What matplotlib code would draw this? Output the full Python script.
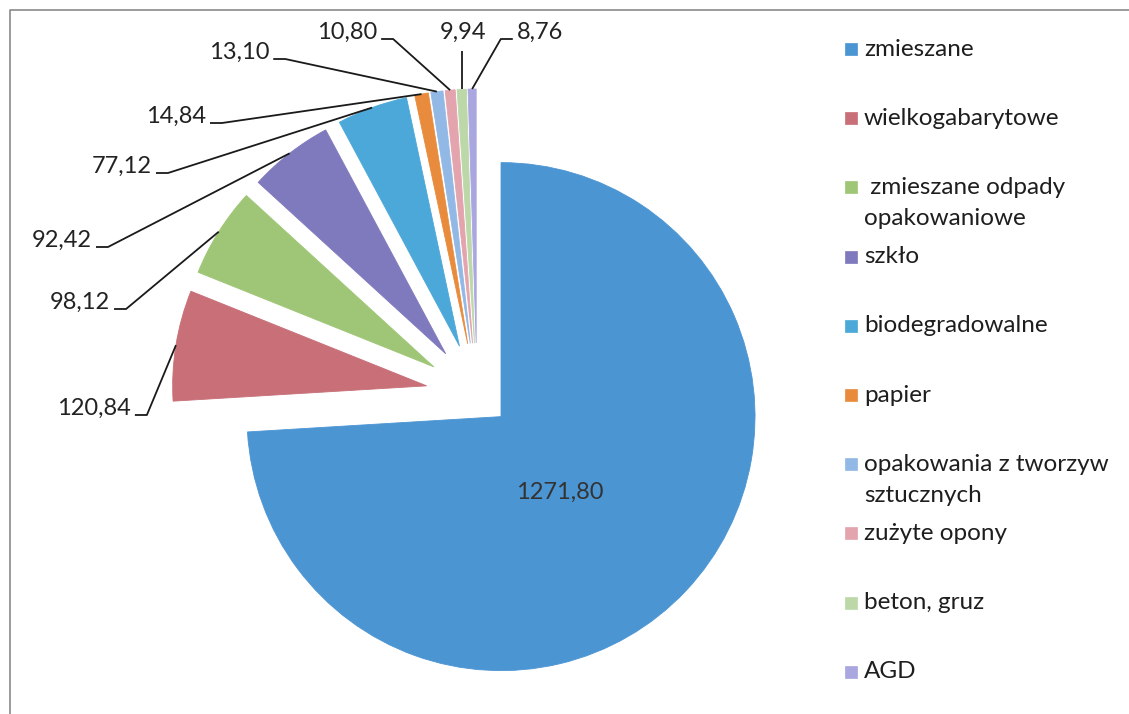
import matplotlib.pyplot as plt
import numpy as np
from matplotlib.lines import Line2D

plt.rcParams['font.family'] = ['Lato', 'DejaVu Sans']

# data
categories = ['zmieszane', 'wielkogabarytowe', ' zmieszane odpady\nopakowaniowe', 'szkło',
              'biodegradowalne', 'papier', 'opakowania z tworzyw\nsztucznych', 'zużyte opony',
              'beton, gruz', 'AGD']
values = [1271.80, 120.84, 98.12, 92.42, 77.12, 14.84, 13.10, 10.80, 9.94, 8.76]
colors = ['#4c95d3', '#c86f78', '#9fc676', '#7f79bd', '#4ba8d8',
          '#e98b3c', '#92b8e6', '#e3a4ae', '#bcd8a8', '#aaa6e0']

# label positions (image pixels, y down)
label_pos = [(560, 492), (94, 408), (80, 302), (62, 240), (122, 166),
             (176, 116), (239, 52), (347, 32), (463, 32), (540, 32)]

W, H = 1129, 714
fig = plt.figure(figsize=(W / 100, H / 100), dpi=100)
ax = fig.add_axes([0, 0, 1, 1])


def Y(y):
    return H - y


center = (477, Y(394))
radius = 254
explode = [33] + [51] * (len(values) - 1)

wedges, _ = ax.pie(values, colors=colors, startangle=90, counterclock=False,
                   center=center, radius=radius, explode=explode,
                   wedgeprops=dict(linewidth=0.6))
for w in wedges:
    w.set_edgecolor(w.get_facecolor())

ax.set_xlim(0, W)
ax.set_ylim(0, H)
ax.set_aspect('equal')
ax.axis('off')

# chart area border (cut off by the scan on right and bottom)
ax.add_line(Line2D([10, 10, W + 5], [Y(H + 5), Y(10), Y(10)], color='#8a8a8a', lw=1.2))

fs = 17
fmt = lambda v: f'{v:.2f}'.replace('.', ',')

texts = []
for i, v in enumerate(values):
    tx, ty = label_pos[i]
    col = '#333333' if i == 0 else '#222222'
    t = ax.text(tx, Y(ty), fmt(v), fontsize=fs, ha='center', va='center', color=col)
    texts.append(t)

fig.canvas.draw()
renderer = fig.canvas.get_renderer()

# leader lines from labels to exploded slices
for i in range(1, len(values)):
    w = wedges[i]
    th = np.deg2rad((w.theta1 + w.theta2) / 2)
    px = w.center[0] + w.r * np.cos(th)
    py = w.center[1] + w.r * np.sin(th)
    bb = texts[i].get_window_extent(renderer)
    cy = (bb.y0 + bb.y1) / 2 - 7
    if abs(px - (bb.x0 + bb.x1) / 2) < 15:
        xs, ys = [px, px], [bb.y0 - 8, py]
    elif px > bb.x1:
        xs, ys = [bb.x1 + 4, bb.x1 + 16, px], [cy, cy, py]
    else:
        xs, ys = [bb.x0 - 4, bb.x0 - 16, px], [cy, cy, py]
    ax.plot(xs, ys, color='#1a1a1a', lw=1.3, solid_capstyle='butt')

# legend drawn by hand, one slot per category
slot0, step = 49, 69.2
for i, (cat, col) in enumerate(zip(categories, colors)):
    yc = slot0 + i * step
    ax.add_patch(plt.Rectangle((845, Y(yc + 6)), 12, 12, facecolor=col, edgecolor=col, lw=0.5))
    for j, line in enumerate(cat.split('\n')):
        ax.text(864, Y(yc + j * 31), line, fontsize=17.5, ha='left', va='center', color='#1e1e1e')

fig.savefig('out.png', dpi=100)
